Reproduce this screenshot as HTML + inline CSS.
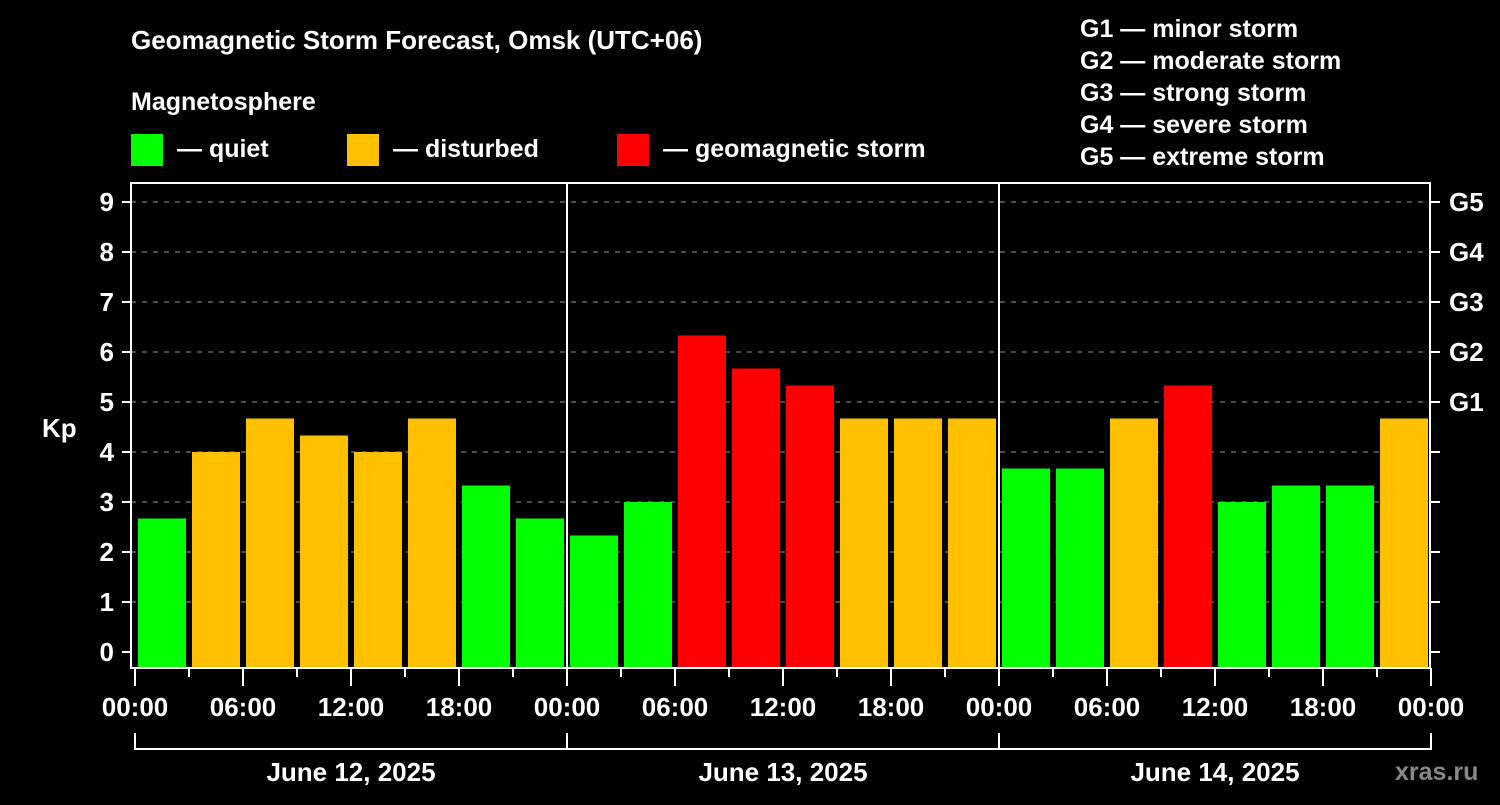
<!DOCTYPE html>
<html><head><meta charset="utf-8"><style>
body{margin:0;background:#000;width:1500px;height:800px;overflow:hidden}
text{font-family:"Liberation Sans",Arial,sans-serif;font-weight:bold;fill:#fff}
</style></head><body>
<svg id="chart" width="1500" height="800" xmlns="http://www.w3.org/2000/svg">
<text x="131" y="49" font-size="26">Geomagnetic Storm Forecast, Omsk (UTC+06)</text>
<text x="131" y="110" font-size="25">Magnetosphere</text>
<rect x="131" y="134" width="32" height="32" fill="#00ff00"/>
<text x="177" y="157" font-size="25">— quiet</text>
<rect x="347" y="134" width="32" height="32" fill="#ffc000"/>
<text x="393" y="157" font-size="25">— disturbed</text>
<rect x="617" y="134" width="32" height="32" fill="#ff0000"/>
<text x="663" y="157" font-size="25">— geomagnetic storm</text>
<g font-size="25">
<text x="1080" y="37">G1 — minor storm</text>
<text x="1080" y="69">G2 — moderate storm</text>
<text x="1080" y="101">G3 — strong storm</text>
<text x="1080" y="133">G4 — severe storm</text>
<text x="1080" y="165">G5 — extreme storm</text>
</g>
<text x="42" y="437" font-size="26">Kp</text>
<text x="1395" y="780" font-size="25" style="fill:#888">xras.ru</text>
<g id="g"></g>
</svg>
<script>
const dayLabels=["June 12, 2025","June 13, 2025","June 14, 2025"];
const hourLabels=["00:00","06:00","12:00","18:00"];
const kpValues=[2.67,4,4.67,4.33,4,4.67,3.33,2.67, 2.33,3,6.33,5.67,5.33,4.67,4.67,4.67, 3.67,3.67,4.67,5.33,3,3.33,3.33,4.67];
const kpTicks=[0,1,2,3,4,5,6,7,8,9];
const gLabels=["G1","G2","G3","G4","G5"];
const NS="http://www.w3.org/2000/svg",g=document.getElementById('g');
const x0=135,slot=54,y0=652,unit=50,L=131,R=1430,T=183,B=668;
const X=i=>x0+i*slot, Y=v=>y0-v*unit;
function mk(t,a){const e=document.createElementNS(NS,t);for(const k in a)e.setAttribute(k,a[k]);g.appendChild(e);return e;}
kpTicks.forEach(v=>{
 if(v>0){const l=mk('line',{x1:L,x2:R,y1:Y(v),y2:Y(v),stroke:'#999','stroke-dasharray':'5,6','stroke-width':1});
 
 }
 mk('line',{x1:122,x2:L,y1:Y(v),y2:Y(v),stroke:'#fff','stroke-width':2});
 mk('line',{x1:R,x2:R+10,y1:Y(v),y2:Y(v),stroke:'#fff','stroke-width':2});
 const t=mk('text',{x:114,y:Y(v)+9,'text-anchor':'end','font-size':26});t.textContent=v;
 
 
});
gLabels.forEach((s,i)=>{const t=mk('text',{x:1449,y:Y(5+i)+9,'font-size':26});t.textContent=s;
 
 });
kpValues.forEach((v,i)=>{
 const c=v>=5?'#ff0000':v>=4?'#ffc000':'#00ff00';
 const r=mk('rect',{x:X(i)+3,y:Y(v),width:48,height:B-Y(v),fill:c});
 
 
});
mk('rect',{x:L,y:T,width:R-L,height:B-T,fill:'none',stroke:'#fff','stroke-width':2});
[1,2].forEach(d=>mk('line',{x1:X(d*8),x2:X(d*8),y1:T,y2:B,stroke:'#fff','stroke-width':2}));
for(let i=0;i<=24;i++){
 const maj=i%2==0;
 mk('line',{x1:X(i),x2:X(i),y1:B,y2:maj?686:677,stroke:'#fff','stroke-width':2});
 if(maj){const t=mk('text',{x:X(i),y:716,'text-anchor':'middle','font-size':26});t.textContent=hourLabels[(i/2)%4];
 
 }
}
dayLabels.forEach((s,d)=>{
 const a=X(d*8),b=X(d*8+8);
 mk('path',{d:`M${a} 733V749H${b}V733`,fill:'none',stroke:'#fff','stroke-width':2});
 const t=mk('text',{x:(a+b)/2,y:781,'text-anchor':'middle','font-size':26});t.textContent=s;
 
 
});
</script>
</body></html>
